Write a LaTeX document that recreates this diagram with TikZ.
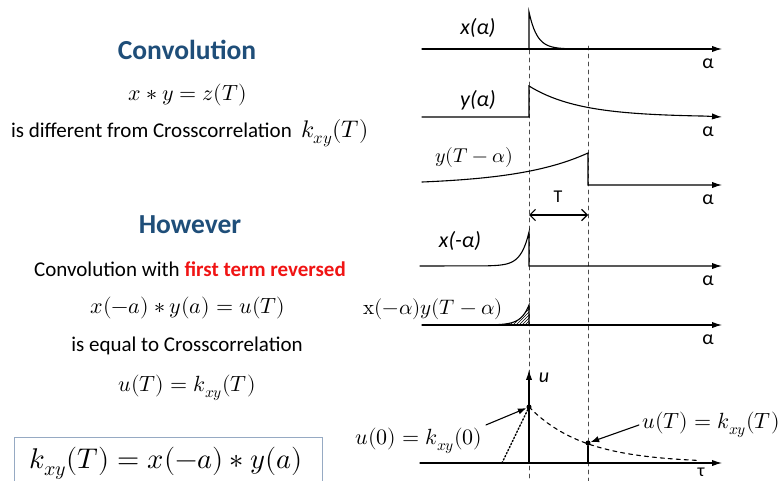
\documentclass[tikz,border=0pt]{standalone}
\usepackage{fontspec}
\usepackage{unicode-math}
\setmainfont{Carlito}
\setmathfont{Latin Modern Math}
\usepackage{tikz}
\usetikzlibrary{arrows.meta, patterns}

\definecolor{headblue}{RGB}{31,78,121}
\definecolor{termred}{RGB}{240,20,20}
\definecolor{boxblue}{RGB}{150,170,195}

\begin{document}
\begin{tikzpicture}[
            x=1pt, y=-1pt,
            >=Latex,
            line cap=round,
            heading/.style={font=\fontsize{27.5}{32}\selectfont\bfseries, text=headblue},
            body text/.style={font=\fontsize{21}{25}\selectfont},
            formula/.style={font=\fontsize{22}{26}\selectfont},
            box formula/.style={font=\fontsize{28.5}{34}\selectfont},
            box line/.style={line width=1pt, boxblue},
            axis line/.style={line width=1.1pt, -{Latex[length=3.5mm, width=2.2mm]}},
            trace/.style={line width=1.1pt},
            guide/.style={line width=0.7pt, dash pattern=on 4pt off 4pt, black!70},
            axis label/.style={font=\fontsize{20}{22}\selectfont},
            signal label/.style={font=\fontsize{22}{24}\selectfont\itshape},
            signal formula/.style={font=\fontsize{21}{24}\selectfont},
            point label/.style={font=\fontsize{22}{24}\selectfont},
            span arrow/.style={{Straight Barb[length=2mm]}-{Straight Barb[length=2mm]}, line width=1.1pt},
            pointer/.style={-{Latex[length=3mm]}, line width=1.1pt},
            sample/.style={circle, fill=black, inner sep=1.8pt},
        ]
        \useasboundingbox (0,0) rectangle (783,481);

        % Left column: the statements.
        \node[heading] (convtitle) at (187,50) {Convolution};
        \node[formula] (convformula) at (188,95) {$x * y = z(T)$};
        \node[body text] (different) at (190,133) {is different from Crosscorrelation\ \ {\fontsize{24}{26}\selectfont$k_{xy}(T)$}};
        \node[heading] (howtitle) at (190,225) {However};
        \node[body text] (reversed) at (190,269) {Convolution with \textcolor{termred}{\bfseries first term reversed}};
        \node[formula] (uformula) at (188,308) {$x(-a) * y(a) = u(T)$};
        \node[body text] (equal) at (187,346) {is equal to Crosscorrelation};
        \node[formula] (kformula) at (187,388) {$u(T) = k_{xy}(T)$};
        \node[box formula] (kbox) at (166,463) {$k_{xy}(T) = x(-a) * y(a)$};
        \draw[box line] (14,481) |- (322,437) -- (322,481);

        % Guides at alpha = 0 and alpha = T.
        \draw[guide] (529,50) -- (529,481);
        \draw[guide] (588,46) -- (588,481);

        % Row 1: x(alpha).
        \draw[axis line] (422,49) -- (722,49);
        \draw[trace] (529,49) -- (529,12) -- plot[domain=529:575, samples=30] (\x, {49-37*exp(-(\x-529)/8)});
        \node[signal label] (xlabel) at (478,28) {x(α)};

        % Row 2: y(alpha).
        \draw[axis line] (422,117) -- (529,117) -- (529,86)
            -- plot[domain=529:705, samples=40] (\x, {117-31*exp(-(\x-529)/50)}) -- (722,117);
        \node[signal label] (ylabel) at (478,100) {y(α)};

        % Row 3: y(T - alpha), shifted by T.
        \draw[axis line] plot[domain=422:588, samples=40] (\x, {185-32*exp(-(588-\x)/70)})
            -- (588,185) -- (722,185);
        \node[signal formula, font=\fontsize{20}{24}\selectfont] (yshiftlabel) at (474,157) {$y(T-\alpha)$};
        \coordinate (tleft) at (529,215);
        \coordinate (tright) at (588,215);
        \draw[span arrow] (tleft) -- (tright);
        \node[axis label, font=\fontsize{18}{20}\selectfont] (tlabel) at (558,197) {T};

        % Row 4: x(-alpha).
        \draw[axis line] (420,266) -- plot[domain=485:529, samples=30] (\x, {266-34*exp(-(529-\x)/8)})
            -- (529,266) -- (722,266);
        \node[signal label] (xrevlabel) at (460,241) {x(-α)};

        % Row 5: the product, hatched.
        \fill[pattern=north east lines] plot[domain=497:529, samples=30] (\x, {325-20*exp(-(529-\x)/8)})
            -- (529,325) -- cycle;
        \draw[axis line] (422,325) -- (722,325);
        \draw[trace] plot[domain=497:529, samples=30] (\x, {325-20*exp(-(529-\x)/8)}) -- (529,325);
        \node[signal formula] (prodlabel) at (433,309) {$\symup{x}(-\alpha)y(T-\alpha)$};

        \foreach \ya in {49,117,185,266,325}
            \node[axis label] (alpha\ya) at (708,\ya+15) {α};

        % Row 6: the result u(tau).
        \draw[axis line] (420,463) -- (722,463);
        \draw[axis line] (529,463) -- (529,370);
        \node[signal label, font=\fontsize{20}{22}\selectfont\itshape] (ulabel) at (544,378) {u};
        \node[axis label, font=\fontsize{18}{20}\selectfont] (taulabel) at (701,472) {τ};
        \node[sample] (u0) at (529,407) {};
        \node[sample] (uT) at (588,443) {};
        \draw[trace, line width=1.6pt] (529,463) -- (u0);
        \draw[trace, line width=1.6pt] (588,463) -- (uT);
        \draw[trace, dash pattern=on 4pt off 4pt] plot[domain=529:700, samples=40] (\x, {463-56*exp(-(\x-529)/55)});
        \draw[trace, line width=1.4pt, dotted] (502,463) -- (u0.center);

        \node[point label] (u0label) at (419,441) {$u(0) = k_{xy}(0)$};
        \node[point label] (uTlabel) at (711,425) {$u(T) = k_{xy}(T)$};
        \draw[pointer] (u0label.north east) -- (u0);
        \draw[pointer] (uTlabel.west) -- (uT);
        \end{tikzpicture}
\end{document}
